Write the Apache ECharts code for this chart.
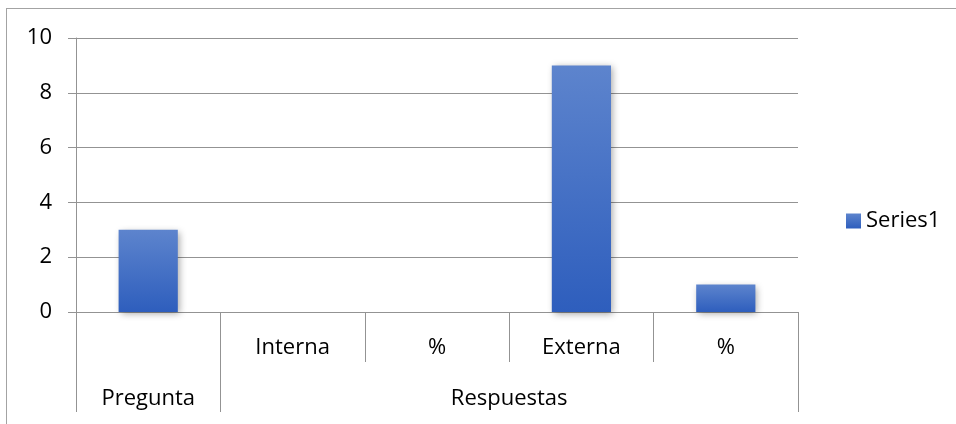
<!DOCTYPE html>
<html>
<head>
<meta charset="utf-8">
<script src="https://cdn.jsdelivr.net/npm/echarts@6/dist/echarts.min.js"></script>
<style>
  html, body { margin: 0; padding: 0; background: #fff; }
  #wrap { position: relative; width: 956px; height: 424px; overflow: hidden; }
  #chart { position: absolute; left: 0; top: 0; width: 956px; height: 424px; }
  #frame { position: absolute; left: 6px; top: 8px; width: 1000px; height: 500px;
           border-left: 1px solid #a3a3a3; border-top: 1px solid #a3a3a3; pointer-events: none; }
</style>
</head>
<body>
<div id="wrap">
  <div id="chart"></div>
  <div id="frame"></div>
</div>
<script>
// First-level categories (one per bar)
const categories = ['', 'Interna', '%', 'Externa', '%'];
// Second-level groups and how many first-level categories each spans
const groupNames = ['Pregunta', 'Respuestas'];
const groupSpans = [1, 4];
// Series values (empty where no bar is drawn)
const seriesName = 'Series1';
const values = [3, null, null, 9, 1];
// Value axis ticks
const yTicks = [0, 2, 4, 6, 8, 10];

// Group boundaries and centres in category units
const groupEdges = [0];
groupSpans.forEach(s => groupEdges.push(groupEdges[groupEdges.length - 1] + s));
const groupCenters = groupSpans.map((s, i) => groupEdges[i] + s / 2);

const FONT = '"Open Sans", sans-serif';
const LINE = '#939393';

const chart = echarts.init(document.getElementById('chart'), null, { renderer: 'canvas' });

chart.setOption({
  animation: false,
  backgroundColor: '#fff',
  textStyle: { fontFamily: FONT },
  grid: { left: 76, right: 158, top: 38, bottom: 112, containLabel: false },
  legend: {
    data: [seriesName],
    left: 841,
    top: 205,
    icon: 'rect',
    itemWidth: 15,
    itemHeight: 15,
    itemGap: 6,
    textStyle: { fontFamily: FONT, fontSize: 22, color: '#000', padding: [0, 0, 0, 0] }
  },
  xAxis: [
    {
      type: 'category',
      data: categories,
      boundaryGap: true,
      axisLine: { show: true, lineStyle: { color: LINE, width: 1 } },
      axisTick: { show: true, interval: 0, alignWithLabel: false, length: 50, lineStyle: { color: LINE } },
      axisLabel: { interval: 0, margin: 25, fontFamily: FONT, fontSize: 22, color: '#000' },
      splitLine: { show: false }
    },
    {
      type: 'value',
      min: groupEdges[0],
      max: groupEdges[groupEdges.length - 1],
      position: 'bottom',
      offset: 50,
      axisLine: { show: false },
      axisTick: { show: true, customValues: groupEdges, length: 50, lineStyle: { color: LINE } },
      axisLabel: {
        customValues: groupCenters,
        margin: 26,
        fontFamily: FONT, fontSize: 22, color: '#000',
        formatter: v => {
          const i = groupCenters.indexOf(v);
          return i >= 0 ? groupNames[i] : '';
        }
      },
      splitLine: { show: false }
    }
  ],
  yAxis: {
    type: 'value',
    min: yTicks[0],
    max: yTicks[yTicks.length - 1],
    interval: yTicks[1] - yTicks[0],
    axisLine: { show: true, lineStyle: { color: LINE } },
    axisTick: { show: true, length: 8, lineStyle: { color: LINE } },
    axisLabel: { margin: 24, fontFamily: FONT, fontSize: 22, color: '#000' },
    splitLine: { show: true, lineStyle: { color: LINE, width: 1 } }
  },
  series: [
    {
      name: seriesName,
      type: 'bar',
      xAxisIndex: 0,
      data: values,
      barWidth: '41%',
      itemStyle: {
        color: new echarts.graphic.LinearGradient(0, 0, 0, 1, [
          { offset: 0, color: '#5d84cd' },
          { offset: 1, color: '#2e5ebd' }
        ]),
        shadowColor: 'rgba(0,0,0,0.35)',
        shadowBlur: 7,
        shadowOffsetX: 2,
        shadowOffsetY: 2
      }
    }
  ]
});
</script>
</body>
</html>
